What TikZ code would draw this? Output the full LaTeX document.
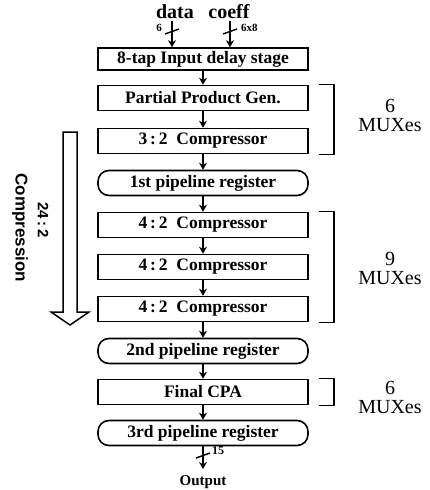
\documentclass[tikz,border=0pt]{standalone}
\usepackage{fontspec}
\setmainfont{Liberation Serif}
\newfontfamily\sansb{Liberation Sans}
\usetikzlibrary{arrows.meta,calc}
\begin{document}
\begin{tikzpicture}[x=1pt,y=-1pt,
  blk/.style={draw, line width=1.6pt, minimum width=210pt, minimum height=25pt, inner sep=0pt,
    font=\fontsize{17.5}{17.5}\selectfont\bfseries},
  reg/.style={blk, rounded corners=11pt},
  arr/.style={line width=1.5pt, -{Stealth[length=7pt,width=8pt]}},
  tick/.style={line width=1.4pt},
  brk/.style={line width=1.5pt},
  mux/.style={font=\fontsize{20}{19}\selectfont, inner sep=0pt, align=center},
  ttl/.style={font=\fontsize{20}{20}\selectfont\bfseries, inner sep=0pt},
  small/.style={font=\fontsize{11}{11}\selectfont\bfseries, inner sep=0pt},
  rot/.style={rotate=-90, inner sep=0pt, font=\sansb\bfseries\fontsize{17}{17}\selectfont}
]
\useasboundingbox (0,0) rectangle (430,490);
% boxes
\node[blk, minimum height=22pt] (tap) at (203,59) {8-tap Input delay stage};
\node[blk] (pp)  at (203,98)  {Partial Product Gen.};
\node[blk] (c32) at (203,141) {3\,:\,2\ \ Compressor};
\node[reg] (r1)  at (203,183) {1st pipeline register};
\node[blk] (ca)  at (203,225) {4\,:\,2\ \ Compressor};
\node[blk] (cb)  at (203,267) {4\,:\,2\ \ Compressor};
\node[blk] (cc)  at (203,309) {4\,:\,2\ \ Compressor};
\node[reg] (r2)  at (203,351) {2nd pipeline register};
\node[blk] (cpa) at (203,392) {Final CPA};
\node[reg] (r3)  at (203,433) {3rd pipeline register};
% arrows between
\draw[arr] (tap) -- (pp);
\draw[arr] (pp) -- (c32);
\draw[arr] (c32) -- (r1);
\draw[arr] (r1) -- (ca);
\draw[arr] (ca) -- (cb);
\draw[arr] (cb) -- (cc);
\draw[arr] (cc) -- (r2);
\draw[arr] (r2) -- (cpa);
\draw[arr] (cpa) -- (r3);
% inputs
\node[ttl] (data) at (175,12) {data};
\node[ttl] (coeff) at (229,12) {coeff};
\coordinate (din) at (172,21);
\coordinate (cin) at (230,21);
\draw[arr] (din) -- (din |- tap.north);
\draw[arr] (cin) -- (cin |- tap.north);
\draw[tick] ($(din)+(-7,13)$) -- ($(din)+(7,8)$);
\draw[tick] ($(cin)+(-7,13)$) -- ($(cin)+(7,8)$);
\node[small, anchor=east] (w6) at (162,28) {6};
\node[small, anchor=west] (w68) at (241,28) {6x8};
% output
\coordinate (oend) at (203,469);
\draw[arr] (r3) -- (oend);
\draw[tick] (196,458) -- (210,453);
\node[small, anchor=west, font=\fontsize{12}{12}\selectfont\bfseries] (w15) at (212,451) {15};
\node[font=\fontsize{15}{15}\selectfont\bfseries, inner sep=0pt] (out) at (203,482) {Output};
% brackets
\draw[brk] ($(pp.north east)+(10,0)$) -- ($(pp.north east)+(25,0)$) -- ($(c32.south east)+(25,0)$) -- ($(c32.south east)+(10,0)$);
\draw[brk] ($(ca.north east)+(10,0)$) -- ($(ca.north east)+(25,0)$) -- ($(cc.south east)+(25,0)$) -- ($(cc.south east)+(10,0)$);
\draw[brk] ($(cpa.north east)+(10,0)$) -- ($(cpa.north east)+(25,0)$) -- ($(cpa.south east)+(25,0)$) -- ($(cpa.south east)+(10,0)$);
\node[mux] (m1) at (390,115) {6\\MUXes};
\node[mux] (m2) at (390,268) {9\\MUXes};
\node[mux] (m3) at (390,397) {6\\MUXes};
% hollow arrow
\draw[line width=1.5pt, line join=miter, fill=white]
  (63,132) -- (77,132) -- (77,312) -- (89,312) -- (70,325) -- (51,312) -- (63,312) -- cycle;
\node[rot] (cmp) at (20,228) {Compression};
\node[rot, font=\sansb\bfseries\fontsize{15}{15}\selectfont] (ratio) at (43,220) {24\,:\,2};
\end{tikzpicture}
\end{document}
